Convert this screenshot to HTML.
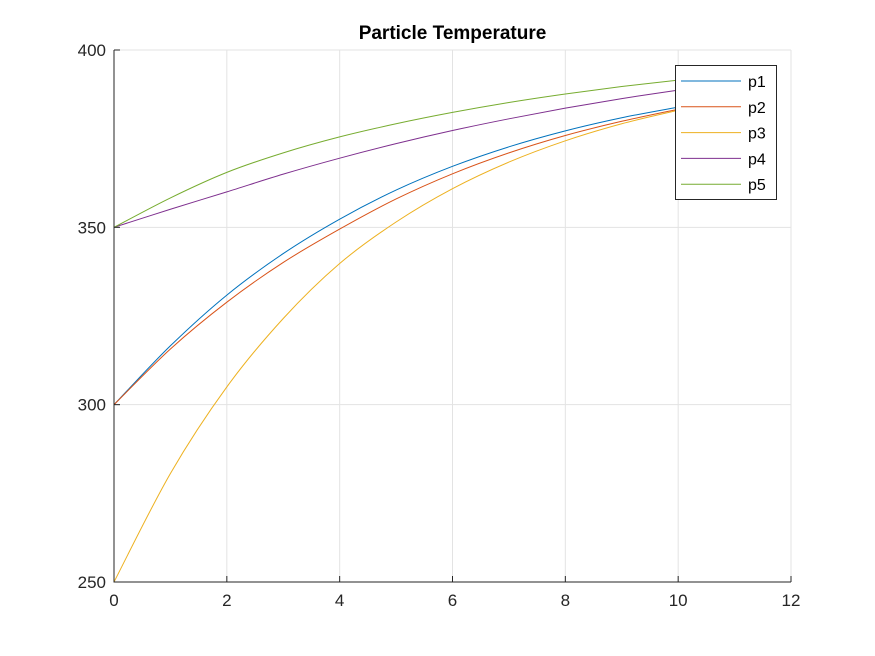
<!DOCTYPE html>
<html><head><meta charset="utf-8"><style>
body{margin:0;background:#fff;}
svg{display:block;font-family:"Liberation Sans",Arial,sans-serif;}
</style></head><body>
<svg id="chart" width="875" height="656" viewBox="0 0 875 656"></svg>
<script>
const tValues=[0,1,2,3,4,5,6,7,8,9,10];
const p1=[300,316.6,330.9,342.6,352.3,360.5,367.2,372.7,377.2,380.9,383.9];
const p2=[300,315.7,328.9,340.1,349.5,358.0,365.1,371.0,375.9,379.9,383.3];
const p3=[250,280.6,305,324.3,339.8,351.5,360.9,368.4,374.4,379.2,383.0];
const p4=[350,355.1,360,365,369.5,373.6,377.3,380.6,383.6,386.3,388.7];
const p5=[350,358.3,365.5,371,375.5,379.2,382.4,385.2,387.6,389.7,391.5];
const seriesNames=["p1","p2","p3","p4","p5"];
const seriesColors=["#0072BD","#D95319","#EDB120","#7E2F8E","#77AC30"];
const xTicks=[0,2,4,6,8,10,12];
const yTicks=[250,300,350,400];
const NS="http://www.w3.org/2000/svg";
const svg=document.getElementById('chart');
const L=114,R=791,T=50,B=582;
const xs=v=>L+(v-0)/12*(R-L);
const ys=v=>B-(v-250)/150*(B-T);
function mk(tag,attrs,parent){const e=document.createElementNS(NS,tag);for(const k in attrs)e.setAttribute(k,attrs[k]);(parent||svg).appendChild(e);return e;}
xTicks.forEach(v=>{const g=mk('line',{x1:xs(v),x2:xs(v),y1:T,y2:B,stroke:'#e3e3e3','stroke-width':1});

});
yTicks.forEach(v=>{const g=mk('line',{x1:L,x2:R,y1:ys(v),y2:ys(v),stroke:'#e3e3e3','stroke-width':1});

});
const all=[p1,p2,p3,p4,p5];
all.forEach((arr,i)=>{
 const pts=tValues.map((t,j)=>[xs(t),ys(arr[j])]);
 let d='M'+pts[0][0]+','+pts[0][1];
 for(let j=0;j<pts.length-1;j++){
  const p0=pts[Math.max(0,j-1)],a=pts[j],b=pts[j+1],p3_=pts[Math.min(pts.length-1,j+2)];
  const c1=[a[0]+(b[0]-p0[0])/6,a[1]+(b[1]-p0[1])/6],c2=[b[0]-(p3_[0]-a[0])/6,b[1]-(p3_[1]-a[1])/6];
  d+=' C'+c1+' '+c2+' '+b;
 }
 const p=mk('path',{d:d,fill:'none',stroke:seriesColors[i],'stroke-width':1});
 
 
});
const ax=mk('path',{d:`M${L},${T}V${B}H${R}`,fill:'none',stroke:'#262626','stroke-width':1});


xTicks.forEach(v=>{mk('line',{x1:xs(v),x2:xs(v),y1:B,y2:B-6,stroke:'#262626'});
 const t=mk('text',{x:xs(v),y:B+24,'text-anchor':'middle','font-size':17,fill:'#262626'});t.textContent=v;
 
 });
yTicks.forEach(v=>{mk('line',{x1:L,x2:L+6,y1:ys(v),y2:ys(v),stroke:'#262626'});
 const t=mk('text',{x:L-8,y:ys(v)+6,'text-anchor':'end','font-size':17,fill:'#262626'});t.textContent=v;
 
 });
const title=mk('text',{x:(L+R)/2,y:39,'text-anchor':'middle','font-size':19,'font-weight':'bold',fill:'#000'});
title.textContent='Particle Temperature';


const lg=mk('g',{});


mk('rect',{x:675.5,y:65.5,width:101,height:134,fill:'#fff',stroke:'#262626','stroke-width':1},lg);
seriesNames.forEach((n,i)=>{
 const y=81+i*25.8;
 const e=mk('g',{},lg);
 
 
 mk('line',{x1:681,x2:741,y1:y,y2:y,stroke:seriesColors[i],'stroke-width':1},e);
 const t=mk('text',{x:748,y:y+6,'font-size':16,fill:'#000'},e);t.textContent=n;
});
</script>
</body></html>
